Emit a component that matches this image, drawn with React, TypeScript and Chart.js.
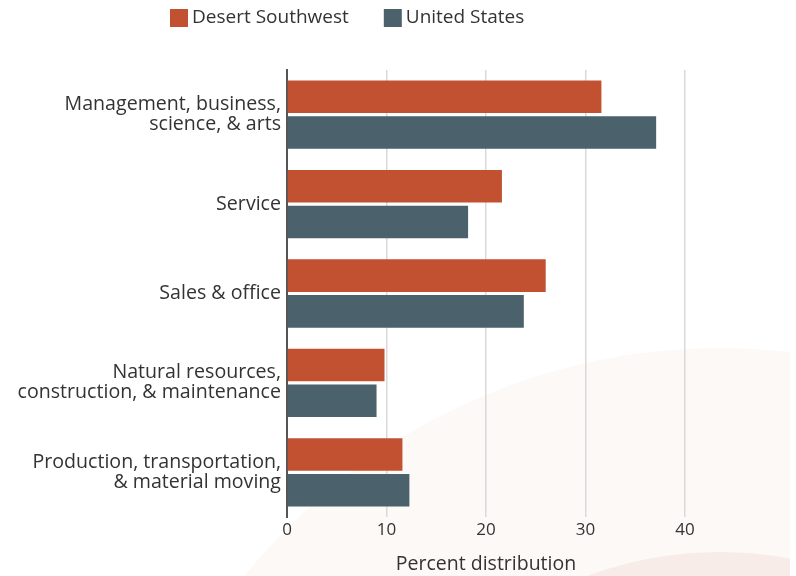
import { useEffect, useRef } from "react";
import { Chart, registerables } from "chart.js";

Chart.register(...registerables);

const categories: string[][] = [
  ["Management, business,", "science, & arts"],
  ["Service"],
  ["Sales & office"],
  ["Natural resources,", "construction, & maintenance"],
  ["Production, transportation,", "& material moving"],
];
const seriesNames = ["Desert Southwest", "United States"];
const desertSouthwest = [31.6, 21.6, 26.0, 9.8, 11.6];
const unitedStates = [37.1, 18.2, 23.8, 9.0, 12.3];
const xTickValues = [0, 10, 20, 30, 40];
const axisTitle = "Percent distribution";

const FONT = "'Open Sans', sans-serif";
const TEXT = "#333333";
const COLORS = ["#c25132", "#4b616c"];

const backgroundPlugin = {
  id: "decorBackground",
  beforeDraw(chart: any) {
    const ctx = chart.ctx;
    ctx.save();
    ctx.fillStyle = "#ffffff";
    ctx.fillRect(0, 0, chart.width, chart.height);
    ctx.beginPath();
    ctx.rect(0, 0, 790, chart.height);
    ctx.clip();
    ctx.fillStyle = "#fdf9f6";
    ctx.beginPath();
    ctx.arc(720, 958, 610, 0, Math.PI * 2);
    ctx.fill();
    ctx.fillStyle = "#f8ece9";
    ctx.beginPath();
    ctx.arc(720, 931, 379, 0, Math.PI * 2);
    ctx.fill();
    ctx.restore();
  },
};

const legendPlugin = {
  id: "customLegend",
  afterDraw(chart: any) {
    const ctx = chart.ctx;
    ctx.save();
    ctx.font = `19px ${FONT}`;
    ctx.textBaseline = "middle";
    ctx.textAlign = "left";
    let x = 170;
    const y = 18;
    chart.data.datasets.forEach((ds: any) => {
      ctx.fillStyle = ds.backgroundColor;
      ctx.fillRect(x, y - 9, 18, 18);
      x += 22;
      ctx.fillStyle = TEXT;
      ctx.fillText(ds.label, x, y);
      x += ctx.measureText(ds.label).width + 35;
    });
    ctx.restore();
  },
};

export default function App() {
  const ref = useRef<HTMLCanvasElement | null>(null);

  useEffect(() => {
    if (!ref.current) return;
    const chart = new Chart(ref.current, {
      type: "bar",
      data: {
        labels: categories,
        datasets: [
          {
            label: seriesNames[0],
            data: desertSouthwest,
            backgroundColor: COLORS[0],
            categoryPercentage: 0.8,
            barPercentage: 0.91,
          },
          {
            label: seriesNames[1],
            data: unitedStates,
            backgroundColor: COLORS[1],
            categoryPercentage: 0.8,
            barPercentage: 0.91,
          },
        ],
      },
      options: {
        indexAxis: "y",
        animation: false,
        responsive: false,
        maintainAspectRatio: false,
        layout: { padding: { top: 70, right: 111, left: 0, bottom: 0 } },
        plugins: {
          legend: { display: false },
          tooltip: { enabled: false },
        },
        scales: {
          x: {
            min: 0,
            max: 40,
            afterBuildTicks: (scale: any) => {
              scale.ticks = xTickValues.map((v) => ({ value: v }));
            },
            afterFit: (scale: any) => {
              scale.height = 59;
            },
            grid: {
              color: "#d9d9d9",
              lineWidth: 1.5,
              drawTicks: false,
            },
            border: { display: false },
            ticks: {
              padding: 3,
              color: TEXT,
              font: { family: FONT, size: 17 },
            },
            title: {
              display: true,
              text: axisTitle,
              color: TEXT,
              font: { family: FONT, size: 19.5 },
              padding: { top: 0, bottom: 0 },
            },
          },
          y: {
            afterFit: (scale: any) => {
              scale.width = 287;
            },
            grid: { display: false, drawTicks: false },
            border: { display: true, color: "#555555", width: 2 },
            ticks: {
              padding: 6,
              color: TEXT,
              font: { family: FONT, size: 19.6, lineHeight: 1.02 },
            },
          },
        },
      },
      plugins: [backgroundPlugin, legendPlugin],
    });
    return () => chart.destroy();
  }, []);

  return (
    <div style={{ position: "fixed", left: 0, top: 0, width: 796, height: 576 }}>
      <canvas ref={ref} width={796} height={576} style={{ width: 796, height: 576, display: "block" }} />
    </div>
  );
}
